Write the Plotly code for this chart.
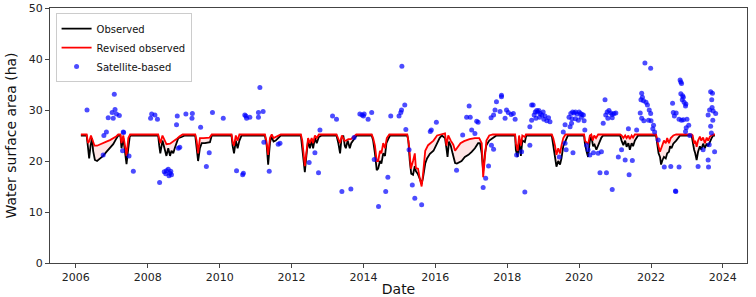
import pandas as pd
import plotly.graph_objects as go

# ---------------- data (decimal years, hectares) ----------------
obs_year = [2006.14, 2006.30, 2006.34, 2006.37, 2006.41, 2006.45, 2006.48, 2006.53, 2006.59, 2006.67,
            2006.76, 2006.85, 2006.95, 2007.04, 2007.11, 2007.18, 2007.24, 2007.27, 2007.32, 2007.37,
            2007.41, 2007.46, 2007.50, 2007.53, 2008.29, 2008.32, 2008.35, 2008.41, 2008.48, 2008.52,
            2008.57, 2008.62, 2008.66, 2008.71, 2008.75, 2008.80, 2008.85, 2008.94, 2009.03, 2009.32,
            2009.36, 2009.40, 2009.45, 2009.50, 2009.59, 2009.73, 2009.78, 2010.33, 2010.36, 2010.40,
            2010.45, 2010.50, 2010.55, 2010.61, 2011.26, 2011.31, 2011.35, 2011.40, 2011.44, 2011.50,
            2011.56, 2011.62, 2011.70, 2012.26, 2012.29, 2012.33, 2012.37, 2012.42, 2012.46, 2012.51,
            2012.56, 2012.60, 2012.65, 2012.70, 2012.76, 2012.84, 2013.25, 2013.30, 2013.35, 2013.39,
            2013.44, 2013.48, 2013.51, 2013.56, 2013.62, 2013.66, 2013.71, 2013.76, 2013.81, 2014.23,
            2014.27, 2014.32, 2014.37, 2014.41, 2014.46, 2014.50, 2014.55, 2014.60, 2014.64, 2014.69,
            2014.74, 2015.22, 2015.25, 2015.29, 2015.33, 2015.38, 2015.43, 2015.46, 2015.51, 2015.57,
            2015.62, 2015.66, 2015.72, 2015.77, 2015.85, 2015.95, 2016.03, 2016.12, 2016.18, 2016.27,
            2016.31, 2016.34, 2016.38, 2016.43, 2016.48, 2016.55, 2016.60, 2016.73, 2016.82, 2016.92,
            2017.01, 2017.10, 2017.19, 2017.24, 2017.29, 2017.33, 2017.38, 2017.42, 2017.50, 2017.61,
            2017.70, 2018.22, 2018.24, 2018.29, 2018.33, 2018.38, 2018.42, 2018.49, 2018.53, 2019.24,
            2019.28, 2019.33, 2019.37, 2019.42, 2019.47, 2019.51, 2019.56, 2019.62, 2019.69, 2020.14,
            2020.16, 2020.21, 2020.25, 2020.30, 2020.34, 2020.39, 2020.43, 2020.48, 2020.53, 2020.58,
            2020.62, 2020.67, 2021.14, 2021.18, 2021.23, 2021.28, 2021.32, 2021.37, 2021.41, 2021.46,
            2021.50, 2021.55, 2021.60, 2021.64, 2022.14, 2022.17, 2022.21, 2022.25, 2022.28, 2022.32,
            2022.36, 2022.41, 2022.45, 2022.50, 2022.53, 2022.57, 2022.62, 2022.70, 2022.76, 2022.81,
            2023.13, 2023.16, 2023.20, 2023.23, 2023.27, 2023.31, 2023.36, 2023.40, 2023.45, 2023.50,
            2023.55, 2023.59, 2023.64, 2023.68, 2023.73, 2023.78]
obs_value = [25.0, 25.0, 22.5, 20.5, 23.0, 24.5, 22.0, 20.2, 20.0, 20.5,
             21.0, 21.8, 22.5, 23.3, 24.2, 25.0, 25.0, 22.5, 24.5, 21.5,
             19.4, 22.5, 24.8, 25.0, 25.0, 23.0, 21.5, 24.0, 22.0, 21.0,
             22.5, 21.0, 22.0, 21.5, 22.5, 23.5, 24.5, 24.7, 25.0, 25.0,
             23.0, 20.0, 22.5, 23.5, 23.5, 23.7, 25.0, 25.0, 23.0, 21.5,
             24.0, 22.5, 24.0, 25.0, 25.0, 23.0, 19.3, 23.5, 24.8, 23.8,
             24.0, 24.5, 25.0, 25.0, 23.0, 21.0, 17.8, 21.5, 24.0, 22.5,
             24.0, 22.5, 24.5, 23.5, 24.7, 25.0, 25.0, 23.5, 21.5, 24.5,
             25.0, 23.0, 22.5, 24.0, 22.5, 23.5, 24.0, 24.5, 25.0, 25.0,
             24.0, 21.5, 18.2, 18.5, 20.0, 19.5, 21.5, 21.0, 23.5, 24.3,
             25.0, 25.0, 24.0, 20.0, 17.5, 17.3, 19.0, 18.0, 17.5, 16.5,
             15.5, 16.8, 19.5, 20.5, 21.4, 22.0, 23.3, 24.5, 25.0, 24.5,
             22.5, 20.8, 23.8, 23.0, 21.5, 19.6, 19.5, 20.0, 20.8, 21.2,
             21.8, 22.5, 23.5, 23.5, 21.5, 18.0, 21.5, 23.1, 24.0, 24.6,
             25.0, 25.0, 22.2, 20.8, 24.0, 21.0, 24.0, 23.7, 25.0, 25.0,
             23.1, 19.9, 18.9, 20.0, 19.3, 20.5, 22.9, 23.9, 25.0, 25.0,
             23.5, 21.8, 20.8, 24.0, 24.8, 22.9, 23.2, 22.2, 23.0, 23.8,
             24.6, 25.0, 25.0, 24.0, 23.1, 24.0, 22.8, 23.5, 22.2, 23.5,
             22.9, 24.0, 24.6, 25.0, 25.0, 23.4, 21.5, 20.8, 19.3, 20.2,
             20.8, 20.5, 21.5, 21.8, 22.9, 22.5, 23.4, 24.0, 24.6, 25.0,
             25.0, 23.4, 22.2, 21.5, 20.2, 21.8, 22.9, 22.2, 23.4, 22.5,
             23.4, 22.9, 23.8, 24.4, 25.0, 25.0]

rev_year = [2006.14, 2006.30, 2006.34, 2006.38, 2006.42, 2006.46, 2006.52, 2006.59, 2006.67, 2006.76,
            2006.85, 2006.95, 2007.04, 2007.12, 2007.18, 2007.24, 2007.27, 2007.32, 2007.38, 2007.41,
            2007.46, 2007.51, 2008.29, 2008.32, 2008.35, 2008.41, 2008.48, 2008.52, 2008.62, 2008.71,
            2008.80, 2008.88, 2008.97, 2009.32, 2009.36, 2009.40, 2009.45, 2009.55, 2009.72, 2009.78,
            2010.33, 2010.37, 2010.40, 2010.45, 2010.50, 2010.55, 2011.26, 2011.30, 2011.35, 2011.40,
            2011.45, 2011.50, 2011.60, 2011.70, 2012.26, 2012.30, 2012.37, 2012.42, 2012.46, 2012.51,
            2012.56, 2012.60, 2012.65, 2012.70, 2012.76, 2013.25, 2013.30, 2013.35, 2013.40, 2013.47,
            2013.52, 2013.58, 2013.65, 2013.72, 2013.80, 2014.23, 2014.27, 2014.32, 2014.37, 2014.41,
            2014.46, 2014.50, 2014.55, 2014.60, 2014.65, 2014.72, 2015.22, 2015.27, 2015.32, 2015.38,
            2015.43, 2015.46, 2015.52, 2015.57, 2015.62, 2015.66, 2015.72, 2015.80, 2015.95, 2016.05,
            2016.20, 2016.27, 2016.31, 2016.36, 2016.43, 2016.50, 2016.55, 2016.60, 2016.70, 2016.80,
            2016.95, 2017.10, 2017.22, 2017.29, 2017.33, 2017.38, 2017.42, 2017.50, 2017.60, 2018.22,
            2018.24, 2018.29, 2018.33, 2018.38, 2018.42, 2018.49, 2018.52, 2019.24, 2019.28, 2019.33,
            2019.37, 2019.42, 2019.47, 2019.51, 2019.56, 2019.62, 2020.14, 2020.16, 2020.21, 2020.25,
            2020.30, 2020.34, 2020.38, 2020.42, 2020.47, 2020.53, 2021.14, 2021.18, 2021.23, 2021.28,
            2021.32, 2021.37, 2021.41, 2021.46, 2021.50, 2021.55, 2022.14, 2022.17, 2022.21, 2022.25,
            2022.28, 2022.32, 2022.36, 2022.41, 2022.45, 2022.50, 2022.55, 2022.62, 2022.70, 2023.13,
            2023.16, 2023.20, 2023.23, 2023.27, 2023.31, 2023.36, 2023.40, 2023.45, 2023.50, 2023.55,
            2023.59, 2023.64, 2023.73, 2023.78]
rev_value = [25.2, 25.2, 23.5, 24.0, 25.0, 24.2, 23.0, 23.0, 23.2, 23.5,
             23.8, 24.1, 24.4, 24.8, 25.2, 25.2, 23.5, 25.0, 22.5, 21.0,
             24.5, 25.2, 25.2, 24.0, 23.5, 25.0, 24.0, 23.3, 23.4, 23.8,
             24.3, 24.8, 25.2, 25.2, 24.0, 21.5, 24.5, 24.5, 24.6, 25.2,
             25.2, 23.5, 23.0, 25.0, 24.0, 25.2, 25.2, 24.0, 21.2, 24.5,
             25.2, 24.5, 24.8, 25.2, 25.2, 24.0, 19.0, 22.5, 24.5, 23.5,
             24.5, 23.5, 25.0, 24.5, 25.2, 25.2, 24.5, 23.5, 25.0, 24.0,
             24.0, 24.3, 24.3, 24.8, 25.2, 25.2, 24.5, 23.0, 20.0, 20.0,
             22.0, 21.5, 23.5, 22.5, 24.5, 25.2, 25.2, 23.0, 18.5, 20.0,
             21.5, 18.6, 18.5, 16.5, 15.0, 17.5, 22.0, 23.1, 24.0, 25.0,
             25.2, 25.4, 23.0, 25.0, 24.0, 23.2, 22.0, 22.5, 23.5, 23.9,
             24.3, 24.5, 24.5, 23.5, 16.8, 20.8, 24.0, 25.0, 25.2, 25.2,
             23.5, 22.0, 25.0, 23.0, 25.0, 24.7, 25.2, 25.2, 24.5, 23.0,
             21.2, 22.5, 21.5, 23.0, 24.5, 25.2, 25.2, 24.0, 23.5, 23.3,
             25.0, 25.2, 24.0, 25.0, 24.5, 25.2, 25.2, 25.0, 24.5, 25.0,
             24.5, 25.0, 24.3, 25.0, 24.6, 25.2, 25.2, 24.0, 22.9, 21.8,
             22.5, 23.1, 24.0, 23.5, 24.5, 23.5, 24.5, 25.0, 25.2, 25.2,
             25.0, 23.4, 24.0, 22.8, 24.0, 24.8, 24.0, 24.6, 23.5, 24.6,
             24.0, 24.8, 25.2, 25.2]

sat_year = [2006.31, 2006.78, 2006.85, 2006.76, 2006.90, 2006.90, 2007.01, 2007.04, 2007.07, 2007.09,
            2007.13, 2007.21, 2007.30, 2007.32, 2007.33, 2007.48, 2007.60, 2008.08, 2008.11, 2008.20,
            2008.27, 2008.33, 2008.46, 2008.50, 2008.52, 2008.57, 2008.59, 2008.62, 2008.66, 2008.64,
            2008.80, 2008.82, 2008.85, 2008.89, 2009.06, 2009.23, 2009.24, 2009.47, 2009.63, 2009.71,
            2009.80, 2010.10, 2010.47, 2010.64, 2010.66, 2010.70, 2010.73, 2010.75, 2010.84, 2011.08,
            2011.08, 2011.12, 2011.21, 2011.23, 2011.38, 2011.63, 2011.68, 2012.49, 2012.65, 2012.75,
            2012.79, 2013.14, 2013.25, 2013.40, 2013.65, 2013.74, 2013.90, 2013.96, 2014.02, 2014.00,
            2014.13, 2014.23, 2014.30, 2014.42, 2014.62, 2014.68, 2014.76, 2014.99, 2015.04, 2015.06,
            2015.07, 2015.15, 2015.18, 2015.27, 2015.36, 2015.43, 2015.62, 2015.86, 2015.89, 2016.03,
            2016.59, 2016.76, 2016.87, 2016.94, 2016.97, 2017.01, 2017.10, 2017.15, 2017.19, 2017.33,
            2017.40, 2017.48, 2017.56, 2017.62, 2017.55, 2017.62, 2017.66, 2017.70, 2017.84, 2017.84,
            2017.80, 2017.94, 2017.98, 2018.03, 2018.11, 2018.17, 2018.22, 2018.26, 2018.40, 2018.49,
            2018.63, 2018.63, 2018.68, 2018.68, 2018.72, 2018.75, 2018.78, 2018.82, 2018.85, 2018.88,
            2018.92, 2018.96, 2019.00, 2019.05, 2019.10, 2019.15, 2019.19, 2018.80, 2018.90, 2019.02,
            2019.45, 2019.56, 2019.61, 2019.61, 2019.64, 2019.75, 2019.79, 2019.83, 2019.72, 2019.77,
            2019.82, 2019.86, 2019.90, 2019.95, 2020.00, 2020.04, 2020.08, 2020.12, 2019.80, 2019.90,
            2019.98, 2020.06, 2020.14, 2020.16, 2020.21, 2020.25, 2020.30, 2020.40, 2020.53, 2020.58,
            2020.62, 2020.67, 2020.72, 2020.74, 2020.78, 2020.83, 2020.88, 2020.92, 2020.97, 2021.02,
            2020.80, 2020.92, 2020.76, 2020.92, 2021.09, 2021.18, 2021.28, 2021.37, 2021.39, 2021.48,
            2021.60, 2021.74, 2021.76, 2021.72, 2021.79, 2021.83, 2021.86, 2021.90, 2021.99, 2021.95,
            2021.99, 2021.70, 2021.74, 2021.80, 2021.93, 2022.00, 2022.07, 2022.05, 2022.10, 2022.20,
            2022.37, 2022.55, 2022.68, 2022.69, 2022.78, 2022.60, 2022.62, 2022.65, 2022.70, 2022.81,
            2022.83, 2022.85, 2022.83, 2022.88, 2022.90, 2022.87, 2022.92, 2022.96, 2022.97, 2022.78,
            2022.85, 2022.90, 2023.00, 2022.98, 2022.96, 2023.05, 2023.08, 2023.31, 2023.45, 2023.59,
            2023.60, 2023.59, 2023.63, 2023.66, 2023.71, 2023.69, 2023.70, 2023.73, 2023.72, 2023.66,
            2023.68, 2023.62, 2023.77, 2023.80]
sat_value = [30.0, 25.0, 25.7, 21.2, 38.0, 28.5, 29.5, 28.4, 33.1, 30.1,
             29.2, 28.9, 22.0, 25.7, 25.6, 21.0, 18.0, 28.4, 29.2, 29.0,
             28.2, 15.8, 17.9, 17.5, 18.1, 18.4, 17.1, 17.6, 17.3, 18.0,
             27.1, 28.8, 22.5, 22.7, 29.2, 28.4, 29.3, 26.6, 18.9, 21.6,
             29.5, 28.4, 18.1, 17.3, 17.6, 29.0, 28.8, 28.4, 28.6, 29.5,
             28.6, 34.4, 29.7, 23.7, 18.0, 23.3, 23.5, 19.7, 21.6, 17.7,
             26.1, 28.8, 28.2, 14.0, 14.5, 24.6, 29.2, 29.0, 29.2, 28.8,
             28.2, 29.5, 20.3, 11.1, 14.0, 16.8, 28.8, 28.8, 29.5, 30.0,
             38.6, 31.0, 26.2, 22.2, 15.3, 12.7, 11.4, 25.8, 26.1, 27.6,
             18.2, 25.1, 28.6, 30.8, 28.6, 26.1, 25.4, 27.8, 27.6, 14.8,
             16.6, 19.0, 23.1, 22.3, 28.5, 29.0, 30.0, 31.6, 32.9, 32.6,
             29.7, 28.4, 30.0, 29.5, 29.1, 29.3, 28.2, 21.2, 21.8, 13.9,
             23.1, 26.7, 28.0, 31.0, 31.0, 29.0, 29.6, 29.9, 29.6, 29.9,
             29.3, 29.0, 29.6, 28.8, 27.9, 28.5, 27.7, 28.4, 28.6, 28.2,
             20.8, 25.7, 27.1, 23.5, 22.2, 26.7, 27.4, 21.6, 28.6, 29.3,
             29.6, 29.4, 29.6, 29.2, 29.6, 29.3, 29.1, 29.0, 28.3, 28.3,
             28.0, 28.6, 27.9, 26.1, 23.1, 22.2, 21.2, 21.6, 21.5, 17.7,
             21.8, 27.4, 32.0, 29.0, 29.6, 29.9, 29.4, 29.1, 29.3, 29.4,
             28.4, 28.5, 17.7, 14.4, 20.8, 22.2, 20.2, 26.3, 17.3, 20.1,
             26.1, 33.3, 32.5, 32.0, 31.8, 39.2, 31.5, 31.0, 38.2, 30.0,
             29.3, 29.4, 28.4, 27.9, 28.0, 27.9, 27.0, 26.3, 25.7, 24.1,
             18.8, 18.9, 14.1, 14.0, 18.8, 31.3, 29.5, 28.8, 29.4, 35.9,
             35.5, 35.2, 33.2, 32.8, 32.5, 32.0, 31.5, 30.8, 31.2, 28.2,
             28.0, 28.1, 28.2, 26.5, 25.8, 27.0, 25.0, 18.9, 22.2, 20.2,
             18.8, 29.0, 30.0, 33.6, 33.3, 32.0, 30.5, 29.8, 28.0, 26.8,
             25.5, 23.2, 21.8, 29.3]

x_range_years = [2005.28, 2024.67]
y_ticks = [0, 10, 20, 30, 40, 50]


def to_dt(y):
    yr = int(y)
    start = pd.Timestamp(yr, 1, 1)
    end = pd.Timestamp(yr + 1, 1, 1)
    return start + (end - start) * (y - yr)


obs_x = [to_dt(v) for v in obs_year]
rev_x = [to_dt(v) for v in rev_year]
sat_x = [to_dt(v) for v in sat_year]

FONT = "DejaVu Sans"

fig = go.Figure()
fig.add_trace(go.Scatter(x=obs_x, y=obs_value, mode="lines", name="Observed",
                         line=dict(color="black", width=1.8)))
fig.add_trace(go.Scatter(x=rev_x, y=rev_value, mode="lines", fill="tonexty",
                         fillcolor="rgba(255,0,0,0.1)", line=dict(width=0),
                         showlegend=False, hoverinfo="skip"))
fig.add_trace(go.Scatter(x=rev_x, y=rev_value, mode="lines", name="Revised observed",
                         line=dict(color="red", width=1.8)))
fig.add_trace(go.Scatter(x=sat_x, y=sat_value, mode="markers", name="Satellite-based",
                         marker=dict(color="rgba(0,0,255,0.7)", size=5, line=dict(width=0))))

axis_common = dict(showline=True, linecolor="#444", linewidth=1, mirror=True,
                   ticks="outside", ticklen=4, tickcolor="#444", showgrid=False,
                   zeroline=False, automargin=False,
                   tickfont=dict(family=FONT, size=11, color="#222"))

fig.update_xaxes(type="date", range=[to_dt(x_range_years[0]), to_dt(x_range_years[1])],
                 tick0="2006-01-01", dtick="M24", tickformat="%Y",
                 title=dict(text="Date", font=dict(family=FONT, size=14, color="#111"), standoff=3),
                 **axis_common)
fig.update_yaxes(range=[0, 50], tickvals=y_ticks,
                 title=dict(text="Water surface area (ha)", font=dict(family=FONT, size=14, color="#111"),
                            standoff=8),
                 **axis_common)

fig.update_layout(
    width=756, height=297,
    margin=dict(l=50, r=9, t=8, b=34),
    paper_bgcolor="white", plot_bgcolor="white",
    font=dict(family=FONT, size=11, color="#222"),
    legend=dict(x=0.008, y=0.98, xanchor="left", yanchor="top", traceorder="normal",
                bgcolor="rgba(255,255,255,0.85)", bordercolor="#cccccc", borderwidth=1,
                font=dict(family=FONT, size=10, color="#111"), tracegroupgap=0,
                itemwidth=30),
    showlegend=True,
)

fig.write_html("out.html")
